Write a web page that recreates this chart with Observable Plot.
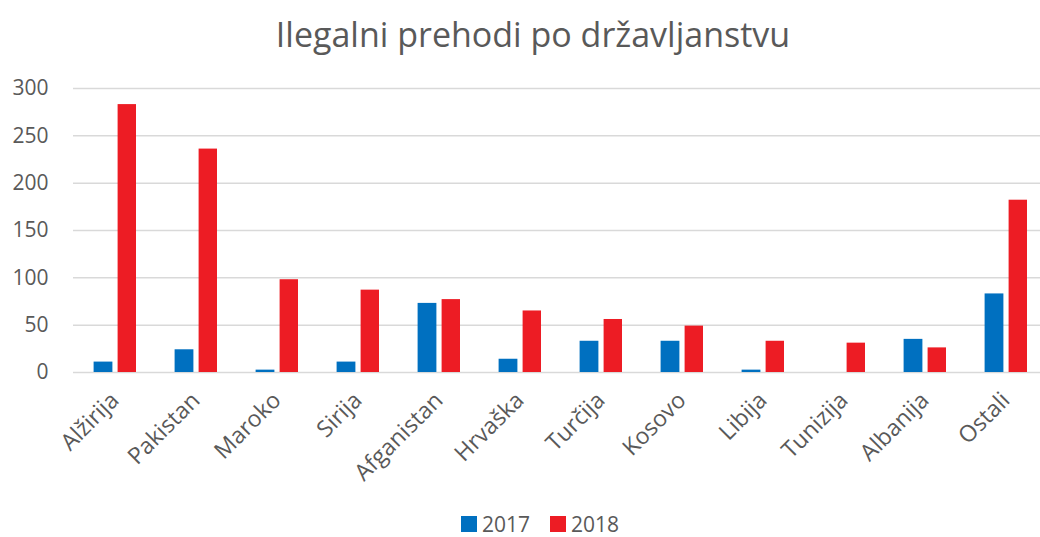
<!DOCTYPE html>
<html>
<head>
<meta charset="utf-8">
<script src="https://cdn.jsdelivr.net/npm/d3@7"></script>
<script src="https://cdn.jsdelivr.net/npm/@observablehq/plot@0.6"></script>
<style>
  html, body { margin: 0; padding: 0; background: #fff; }
  body { position: relative; width: 1040px; height: 537px; overflow: hidden; font-family: "Open Sans", sans-serif; color: #595959; }
  #title { height: 70px; line-height: 68px; text-align: center; font-size: 34px; color: #595959; padding-left: 26px; box-sizing: border-box; }
  #legend { position: absolute; left: 0; top: 512px; width: 1040px; box-sizing: border-box; padding-left: 40px; display: flex; justify-content: center; gap: 20px; font-size: 21px; height: 24px; line-height: 24px; align-items: center; }
  .sw { display: inline-flex; align-items: center; gap: 5px; }
  .sq { width: 16px; height: 16px; display: inline-block; }
</style>
</head>
<body>
<div id="title">Ilegalni prehodi po državljanstvu</div>
<div id="chart"></div>
<div id="legend"></div>
<script>
const categories = ["Alžirija", "Pakistan", "Maroko", "Sirija", "Afganistan", "Hrvaška", "Turčija", "Kosovo", "Libija", "Tunizija", "Albanija", "Ostali"];
const values2017 = [11, 24, 2.5, 11, 73, 14, 33, 33, 2.5, 0, 35, 83];
const values2018 = [283, 236, 98, 87, 77, 65, 56, 49, 33, 31, 26, 182];
const years = ["2017", "2018"];
const colors = ["#0070C0", "#ED1C24"];
const yTicks = [0, 50, 100, 150, 200, 250, 300];

const d2017 = categories.map((c, i) => ({cat: c, v: values2017[i]}));
const d2018 = categories.map((c, i) => ({cat: c, v: values2018[i]}));

const plot = Plot.plot({
  width: 1040,
  height: 435,
  marginLeft: 73,
  marginRight: 0,
  marginTop: 18,
  marginBottom: 133,
  style: {fontFamily: "'Open Sans', sans-serif", color: "#595959", background: "#fff"},
  x: {domain: categories, range: [73.4, 1047.6], padding: 0},
  y: {domain: [0, 300]},
  marks: [
    Plot.ruleY(yTicks, {stroke: "#d9d9d9", strokeWidth: 1.5}),
    Plot.barY(d2017, {x: "cat", y: "v", fill: colors[0], insetLeft: 19.6, insetRight: 42.6}),
    Plot.barY(d2018, {x: "cat", y: "v", fill: colors[1], insetLeft: 43.6, insetRight: 19}),
    Plot.axisY({ticks: yTicks, tickSize: 0, tickPadding: 25, fontSize: 21, label: null}),
    Plot.axisX({tickSize: 0, tickPadding: 24, tickRotate: -45, fontSize: 23, label: null})
  ]
});
document.getElementById("chart").appendChild(plot);

const legend = document.getElementById("legend");
years.forEach((y, i) => {
  const s = document.createElement("span");
  s.className = "sw";
  const q = document.createElement("span");
  q.className = "sq";
  q.style.background = colors[i];
  s.appendChild(q);
  s.appendChild(document.createTextNode(y));
  legend.appendChild(s);
});
</script>
</body>
</html>
